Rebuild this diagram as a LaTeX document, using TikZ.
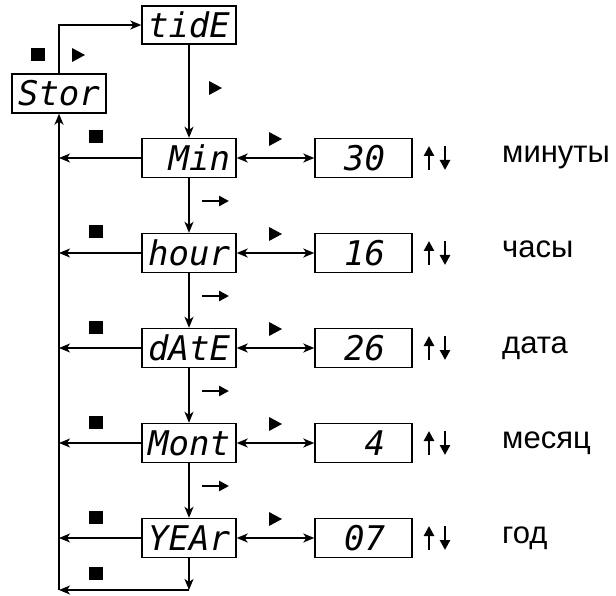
\documentclass[tikz,border=0pt]{standalone}
\usepackage{fontspec}
\setmainfont{Liberation Sans}
\newfontfamily\segfamily{DejaVu Sans Mono}
\usetikzlibrary{arrows.meta}
\tikzset{
  segfont/.style={font=\fontsize{34}{34}\segfamily\itshape},
  lbox/.style={draw, line width=1.4pt, minimum height=39pt, inner xsep=6pt, inner ysep=0pt,
               text width=82pt, align=right, segfont},
  rbox/.style={draw, line width=1.4pt, minimum height=39pt, inner xsep=27pt, inner ysep=0pt,
               text width=43pt, align=right, segfont},
  lab/.style={anchor=base west, inner sep=0pt, font=\fontsize{31}{31}\selectfont},
  arr/.style={line width=1.4pt, -{Stealth[length=11pt,width=9pt,inset=3pt]}},
  darr/.style={line width=1.4pt, {Stealth[length=11pt,width=9pt,inset=3pt]}-{Stealth[length=11pt,width=9pt,inset=3pt]}},
  keyarr/.style={line width=2.6pt, -{Triangle[length=10pt,width=10pt]}},
}
\newcommand{\sqmark}[2]{\fill (#1-7,#2-6.5) rectangle (#1+7,#2+6.5);}
\newcommand{\tri}[2]{\fill (#1-6.5,#2-7) -- (#1+6.5,#2) -- (#1-6.5,#2+7) -- cycle;}
\newcommand{\updown}[1]{%
  \draw[keyarr] (429,#1+12) -- (429,#1-12);
  \draw[keyarr] (445,#1-12) -- (445,#1+12);}
\begin{document}
\begin{tikzpicture}[x=1pt,y=-1pt]
\useasboundingbox (0,0) rectangle (616,596);

% top boxes
\node[lbox, align=center] (stor) at (59,93.5) {Stor};
\node[lbox, align=center, minimum height=38pt] (tide) at (189,25) {tidE};

% menu boxes
\node[lbox] (min)  at (189,158) {Min};
\node[lbox] (hour) at (189,253) {hour};
\node[lbox] (date) at (189,348) {dAtE};
\node[lbox] (mont) at (189,443) {Mont};
\node[lbox] (year) at (189,538) {YEAr};

% value boxes
\node[rbox] (vmin)  at (363.5,158) {30};
\node[rbox] (vhour) at (363.5,253) {16};
\node[rbox] (vdate) at (363.5,348) {26};
\node[rbox] (vmont) at (363.5,443) {4};
\node[rbox] (vyear) at (363.5,538) {07};

% labels
\node[lab] (lmin)  at (502,163) {минуты};
\node[lab] (lhour) at (502,258) {часы};
\node[lab] (ldate) at (502,353) {дата};
\node[lab] (lmont) at (502,448) {месяц};
\node[lab] (lyear) at (502,543) {год};

% coordinates
\coordinate (busend) at (stor.south |- 0,590);
\coordinate (corner) at (year.south |- 0,590);

% connectors
\draw[arr] (stor.north) |- (tide.west);
\draw[arr] (tide) -- (min);
\draw[arr] (min) -- (hour);
\draw[arr] (hour) -- (date);
\draw[arr] (date) -- (mont);
\draw[arr] (mont) -- (year);
\draw[arr] (busend) -- (stor.south);
\foreach \n in {min,hour,date,mont,year}{
  \draw[arr] (\n.west) -- (\n.west -| stor.south);
}
\draw[arr] (year.south) -- (corner);
\draw[arr] (corner) -- (busend);
\draw[darr] (min.east) -- (vmin.west);
\draw[darr] (hour.east) -- (vhour.west);
\draw[darr] (date.east) -- (vdate.west);
\draw[darr] (mont.east) -- (vmont.west);
\draw[darr] (year.east) -- (vyear.west);

% key marks
\sqmark{37.5}{54.5}
\tri{78.5}{55}
\tri{215.5}{88}
\foreach \y in {158,253,348,443,538}{
  \sqmark{96}{\y-21}
  \tri{275.5}{\y-19}
  \updown{\y}
}
\foreach \y in {158,253,348,443}{
  \draw[keyarr] (202,\y+43) -- (229,\y+43);
}
\sqmark{96}{573.5}
\end{tikzpicture}
\end{document}
